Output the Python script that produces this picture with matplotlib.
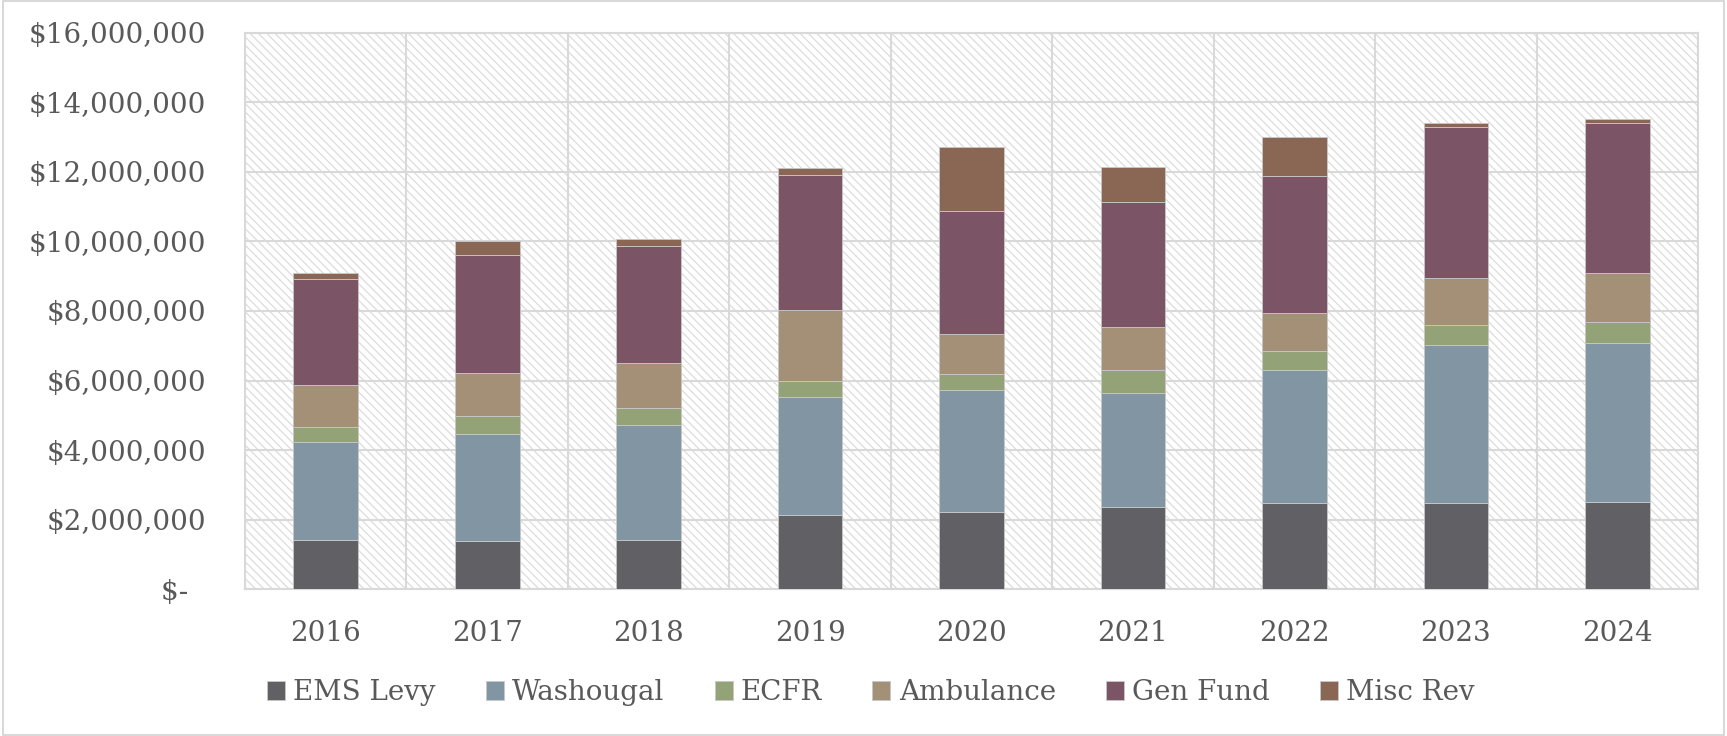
import matplotlib
matplotlib.use("Agg")
import matplotlib.pyplot as plt
import numpy as np
from matplotlib.patches import Rectangle
from matplotlib.ticker import FuncFormatter, MultipleLocator

# values, in dollars
years = ["2016", "2017", "2018", "2019", "2020", "2021", "2022", "2023", "2024"]
ems_levy = [1.40e6, 1.38e6, 1.42e6, 2.12e6, 2.21e6, 2.35e6, 2.47e6, 2.47e6, 2.50e6]
washougal = [2.82e6, 3.07e6, 3.29e6, 3.41e6, 3.51e6, 3.28e6, 3.83e6, 4.56e6, 4.58e6]
ecfr = [0.45e6, 0.52e6, 0.50e6, 0.46e6, 0.48e6, 0.68e6, 0.55e6, 0.57e6, 0.61e6]
ambulance = [1.19e6, 1.25e6, 1.29e6, 2.05e6, 1.15e6, 1.24e6, 1.08e6, 1.36e6, 1.39e6]
gen_fund = [3.07e6, 3.39e6, 3.36e6, 3.86e6, 3.53e6, 3.58e6, 3.96e6, 4.34e6, 4.34e6]
misc_rev = [0.15e6, 0.39e6, 0.22e6, 0.21e6, 1.84e6, 1.00e6, 1.12e6, 0.12e6, 0.11e6]

series = [
    ("EMS Levy", ems_levy, "#616065"),
    ("Washougal", washougal, "#8295a3"),
    ("ECFR", ecfr, "#94a278"),
    ("Ambulance", ambulance, "#a39077"),
    ("Gen Fund", gen_fund, "#7b5565"),
    ("Misc Rev", misc_rev, "#8a6654"),
]

TEXT = "#595959"
GRID = "#d9d9d9"

plt.rcParams["font.family"] = ["DejaVu Serif"]
plt.rcParams["hatch.linewidth"] = 0.9
plt.rcParams["hatch.color"] = "#dcdcdc"

fig = plt.figure(figsize=(17.27, 7.36), dpi=100)
ax = fig.add_axes([0.1419, 0.1997, 0.9832 - 0.1419, 0.9552 - 0.1997])

# patterned plot-area background (Excel "wide downward diagonal" look)
ax.add_patch(Rectangle((0, 0), 1, 1, transform=ax.transAxes, facecolor="white",
                       edgecolor="#dcdcdc", hatch="\\\\\\\\", linewidth=0, zorder=0))

x = np.arange(len(years))
bottom = np.zeros(len(years))
for label, vals, color in series:
    vals = np.array(vals)
    ax.bar(x, vals, width=0.4, bottom=bottom, color=color, label=label,
           edgecolor="#c8c8c8", linewidth=0.6, zorder=3)
    bottom += vals

ax.set_xlim(-0.5, len(years) - 0.5)
ax.set_ylim(0, 16e6)
ax.yaxis.set_major_locator(MultipleLocator(2e6))
ax.yaxis.set_major_formatter(
    FuncFormatter(lambda v, p: "$-\u2007" if v == 0 else f"${v:,.0f}"))
ax.set_xticks(x)
ax.set_xticklabels(years)
ax.set_xticks(np.arange(len(years) + 1) - 0.5, minor=True)

ax.grid(axis="y", which="major", color=GRID, linewidth=1.5, zorder=1)
ax.grid(axis="x", which="minor", color=GRID, linewidth=1.5, zorder=1)
ax.set_axisbelow(True)
for sp in ax.spines.values():
    sp.set_color(GRID)
    sp.set_linewidth(1.5)

ax.tick_params(axis="both", which="both", length=0, labelsize=20, colors=TEXT)
ax.tick_params(axis="y", pad=28)
ax.tick_params(axis="x", pad=22)

fig.legend(loc="center", bbox_to_anchor=(0.5043, 0.0585), ncol=6, frameon=False,
           fontsize=20, labelcolor=TEXT, handlelength=0.65, handleheight=0.65,
           handletextpad=0.3, columnspacing=1.8)

# light frame around the whole chart
fig.patches.append(Rectangle((0.002, 0.002), 0.996, 0.996, transform=fig.transFigure,
                             fill=False, edgecolor=GRID, linewidth=1.5))

fig.savefig("out.png", dpi=100)
